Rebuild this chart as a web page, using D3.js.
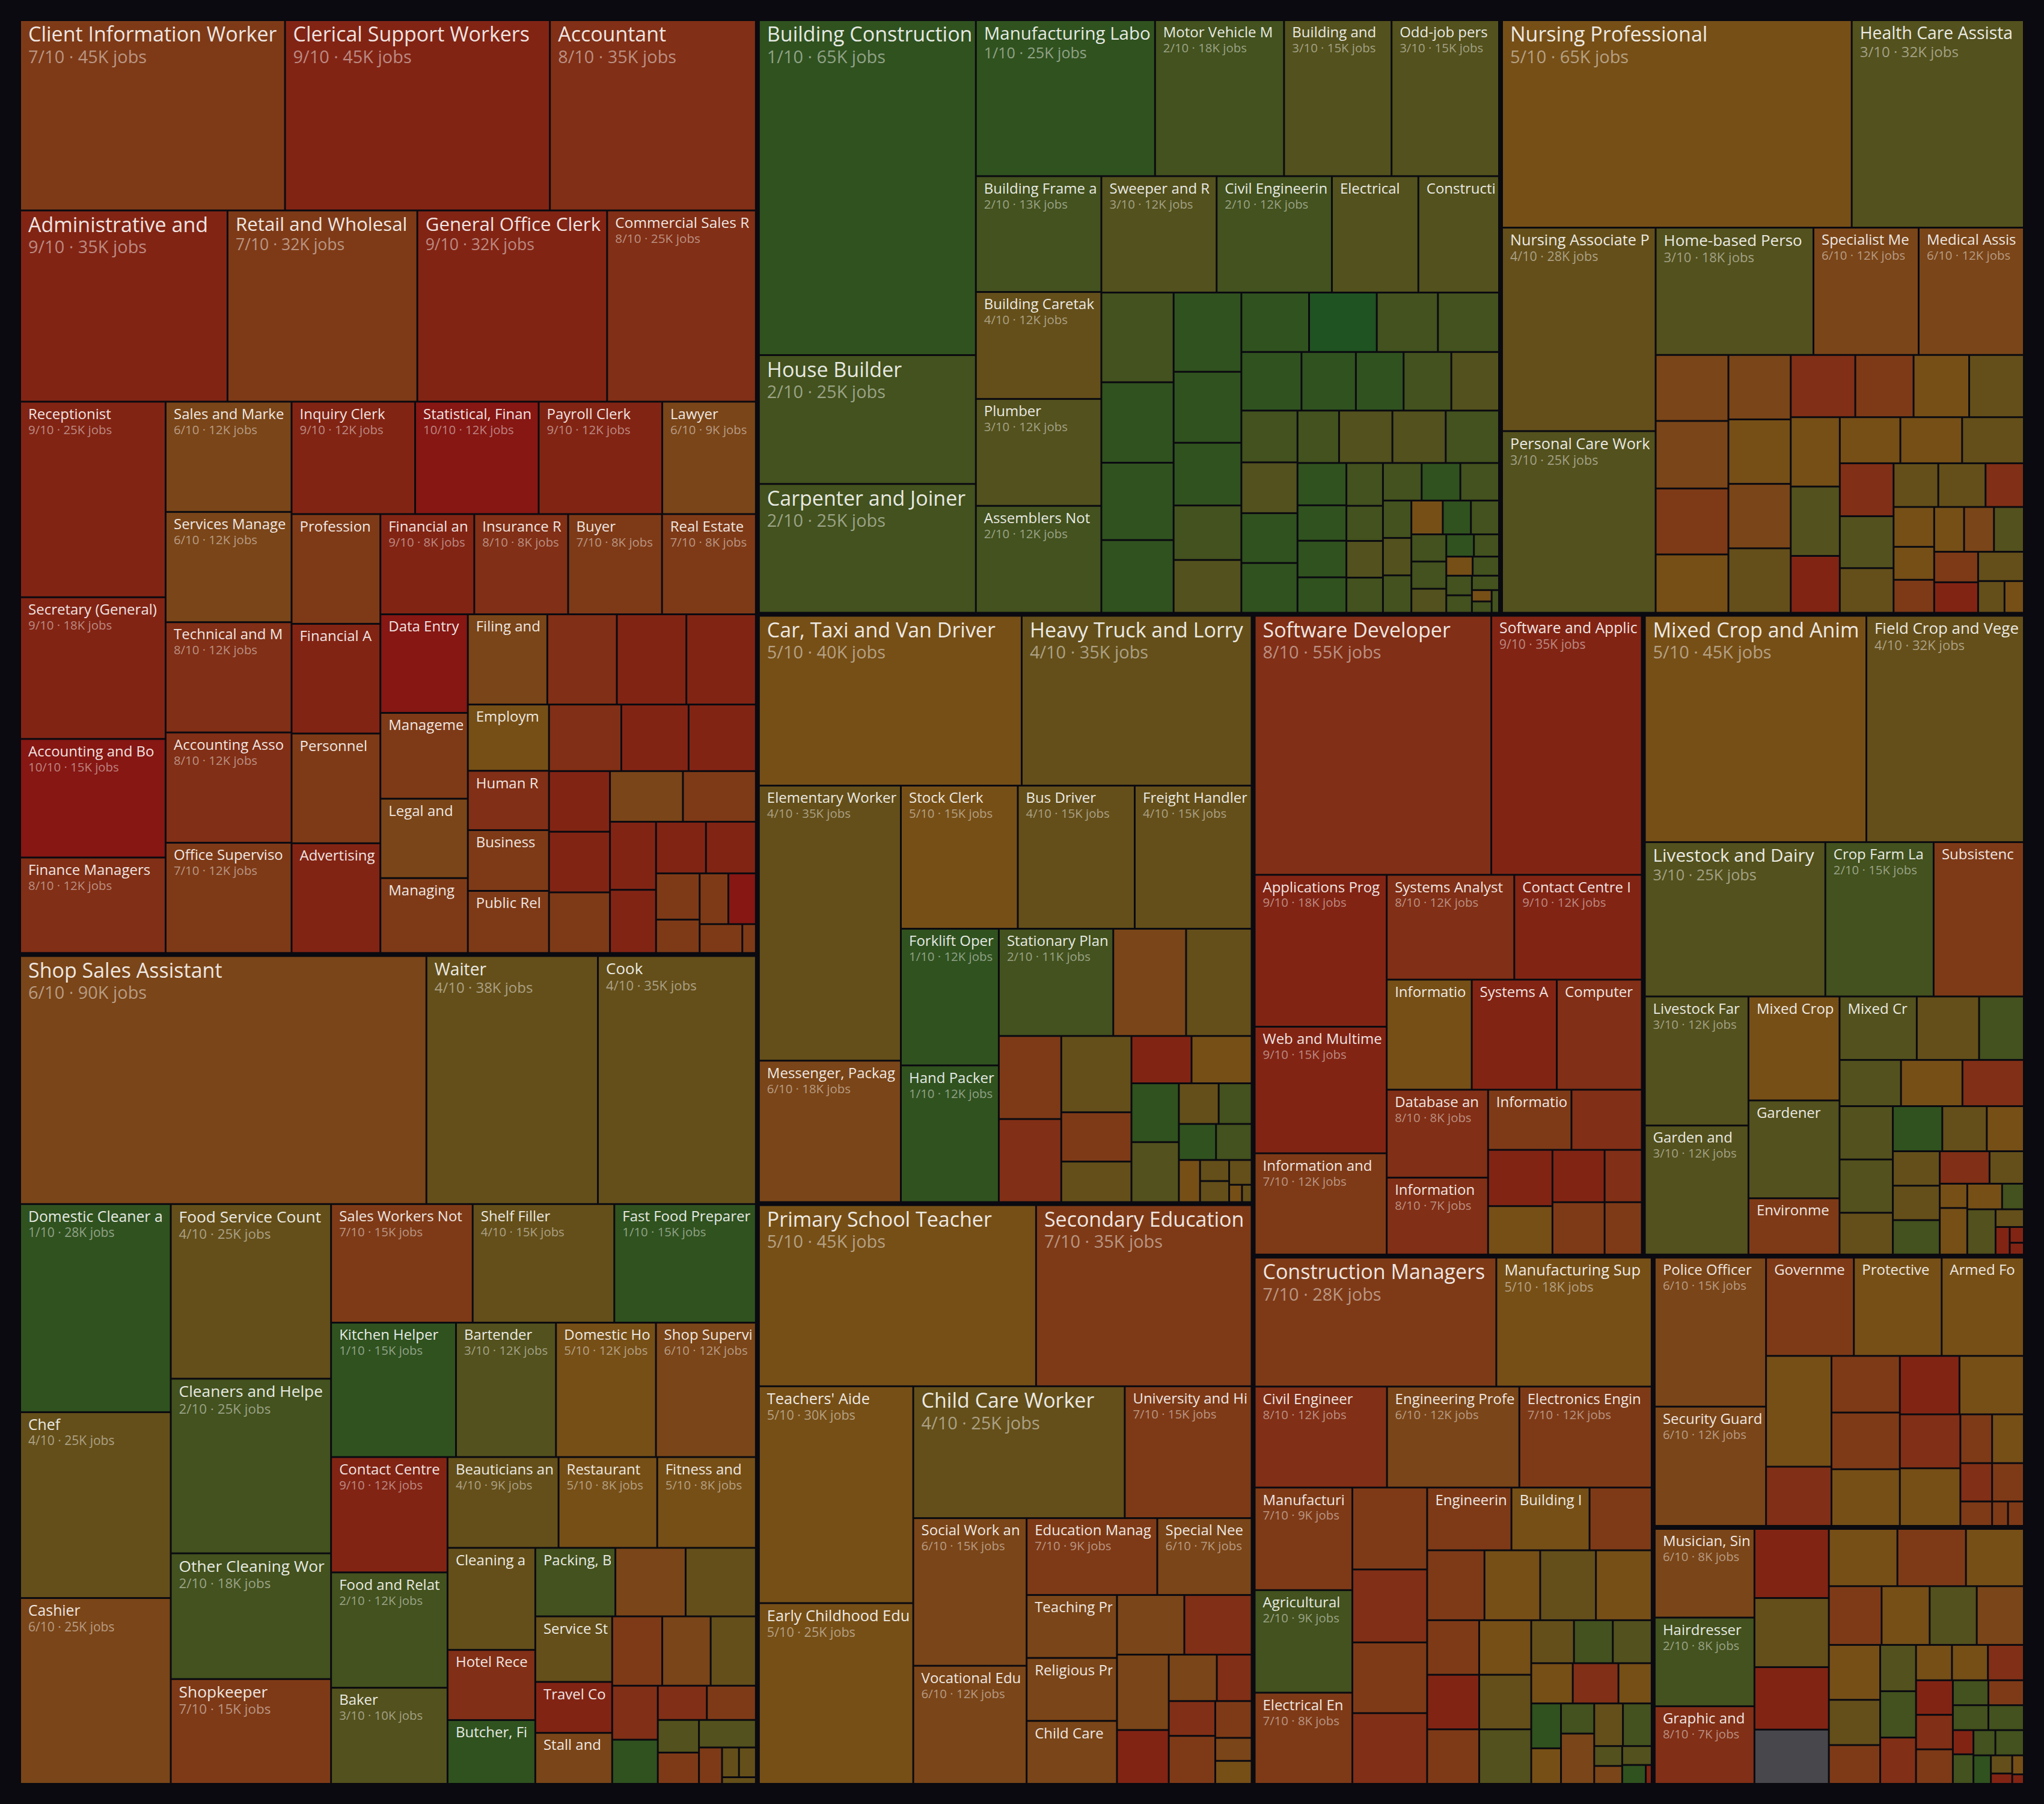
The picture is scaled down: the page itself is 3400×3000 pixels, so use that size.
<!DOCTYPE html>
<html>
<head>
<meta charset="utf-8">
<script src="https://cdn.jsdelivr.net/npm/d3@7"></script>
<style>
  html, body { margin: 0; background: #0a0a10; }
  svg { display: block; }
</style>
</head>
<body>
<div id="chart"></div>
<script>
// each row: [occupation, AI exposure score out of 10, jobs in thousands]
const office = [
  ["Client Information Workers", 7, 45], ["Clerical Support Workers Not Elsewhere Classified", 9, 45],
  ["Accountant", 8, 35], ["Administrative and Executive Secretaries", 9, 35.4],
  ["Retail and Wholesale Trade Managers", 7, 32.4], ["General Office Clerk", 9, 32.4],
  ["Commercial Sales Representative", 8, 25.4], ["Receptionist", 9, 25.4],
  ["Secretary (General)", 9, 18.4], ["Accounting and Bookkeeping Clerks", 10, 15.4],
  ["Finance Managers", 8, 12.4], ["Sales and Marketing Managers", 6, 12.4],
  ["Services Managers", 6, 12.4], ["Technical and Medical Sales Professionals", 8, 12.4],
  ["Accounting Associate Professionals", 8, 12.4], ["Office Supervisor", 7, 12.4],
  ["Inquiry Clerk", 9, 12.4], ["Statistical, Finance and Insurance Clerks", 10, 12.4],
  ["Payroll Clerk", 9, 12.4], ["Lawyer", 6, 9.4],
  ["Professional Services Managers", 7, 8.7], ["Financial Analyst", 9, 8.7],
  ["Personnel and Careers Professionals", 7, 8.7], ["Advertising and Marketing Professionals", 9, 8.7],
  ["Financial and Investment Advisers", 9, 8.4], ["Insurance Representative", 8, 8.4],
  ["Buyer", 7, 8.4], ["Real Estate Agent", 7, 8.4],
  ["Data Entry Clerk", 10, 7.7], ["Management and Organisation Analyst", 7, 6.7],
  ["Legal and Related Associate Professionals", 6, 6.2], ["Managing Director", 7, 5.85],
  ["Filing and Copying Clerk", 6, 6.4], ["Bank Teller", 8, 5.6], ["Debt Collector", 9, 5.6],
  ["Mail Clerk", 9, 5.6],
  ["Employment Agents and Contractors", 5, 4.8], ["Human Resource Manager", 8, 4.3],
  ["Business Services Agents", 7, 4.4], ["Public Relations Professional", 7, 4.5],
  ["Tax Adviser", 8, 4.3], ["Credit Analyst", 9, 4.0], ["Claims Adjuster", 9, 4.0],
  ["Transcription Typist", 9, 3.3], ["Library Clerk", 9, 3.3], ["Conference Organiser", 7, 3.3],
  ["Office Manager", 6, 3.3], ["Auditor", 7, 3.3],
  ["Bookkeeper", 9, 2.8], ["Loan Officer", 9, 2.6], ["Court Clerk", 9, 2.3],
  ["Coding Clerk", 9, 2.3], ["Valuer", 7, 1.8],
  ["Auctioneer", 7, 1.3], ["Company Secretary", 7, 1.3],
  ["Word Processor Operator", 10, 1.25], ["Trade Broker", 7, 1.1], ["Actuary", 7, 0.35]
];

const sales = [
  ["Shop Sales Assistant", 6, 90], ["Waiter", 4, 38], ["Cook", 4, 35],
  ["Domestic Cleaner and Helper", 1, 28], ["Chef", 4, 25], ["Cashier", 6, 25],
  ["Food Service Counter Attendant", 4, 25], ["Cleaners and Helpers in Offices", 2, 25],
  ["Other Cleaning Workers", 2, 18], ["Shopkeeper", 7, 15],
  ["Sales Workers Not Elsewhere Classified", 7, 15], ["Shelf Filler", 4, 15],
  ["Fast Food Preparer", 1, 15], ["Kitchen Helper", 1, 15],
  ["Bartender", 3, 12], ["Domestic Housekeeper", 5, 12], ["Shop Supervisor", 6, 12],
  ["Contact Centre Salesperson", 9, 12], ["Food and Related Products Machine Operators", 2, 12],
  ["Baker", 3, 10], ["Beauticians and Related Workers", 4, 9],
  ["Restaurant Manager", 5, 8], ["Fitness and Recreation Instructors", 5, 8],
  ["Cleaning and Housekeeping Supervisors", 4, 8], ["Hotel Receptionist", 8, 5.5],
  ["Butcher, Fishmonger and Related", 1, 5], ["Packing, Bottling and Labelling Operators", 2, 4.9],
  ["Sales Demonstrator", 6, 4.3], ["Barista", 4, 4.3],
  ["Service Station Attendant", 4, 4.5], ["Travel Consultant", 9, 3.5],
  ["Stall and Market Salesperson", 6, 3.5],
  ["Street Vendor", 7, 3.1], ["Door-to-door Salesperson", 6, 3.0], ["Dishwasher", 4, 2.8],
  ["Ticket Clerk", 8, 2.2], ["Car Washer", 1, 1.8], ["Bookmaker", 8, 1.5], ["Retail Buyer", 7, 1.5],
  ["Laundry Worker", 3, 1.2], ["Pet Groomer", 7, 1.15], ["Caterer", 3, 1.4],
  ["Sommelier", 7, 0.75], ["Ice Cream Vendor", 4, 0.45], ["Bellhop", 4, 0.45],
  ["Cloakroom Attendant", 4, 0.2]
];

const trades = [
  ["Building Construction Labourer", 1, 65], ["House Builder", 2, 25], ["Carpenter and Joiner", 2, 25],
  ["Manufacturing Labourer", 1, 25], ["Motor Vehicle Mechanic", 2, 18],
  ["Building and Related Trades Workers", 3, 15], ["Odd-job person", 3, 15],
  ["Building Frame and Related Trades Workers", 2, 13], ["Building Caretaker", 4, 12],
  ["Plumber", 3, 12], ["Assemblers Not Elsewhere Classified", 2, 12],
  ["Sweeper and Related Labourers", 3, 12], ["Civil Engineering Labourer", 2, 12],
  ["Electrical Mechanic", 3, 9], ["Construction Supervisor", 3, 8.4],
  ["Bricklayer", 2, 5.8], ["Concrete Placer", 1, 5.2], ["Roofer", 1, 5.0],
  ["Painter and Decorator", 1, 4.7], ["Welder", 1, 4.8], ["Scaffolder", 1, 4.3],
  ["Plasterer", 1, 3.8], ["Tiler", 2, 3.3], ["Glazier", 3, 3.2],
  ["Steel Fixer", 1, 3.6], ["Demolition Worker", 0, 3.6], ["Floor Layer", 2, 3.25],
  ["Insulation Worker", 2, 3.25], ["Metal Fabricator", 1, 3.15], ["Machine Fitter", 1, 2.85],
  ["Sheet Metal Worker", 1, 2.5], ["Toolmaker", 2, 2.5], ["Electrical Line Installer", 3, 2.5],
  ["Boilermaker", 2, 2.6], ["Upholsterer", 3, 2.55], ["Earthmoving Plant Operator", 1, 2.5],
  ["Crane Operator", 1, 2.5], ["Cabinetmaker", 2, 1.95], ["Locksmith", 3, 2.5],
  ["Air-conditioning Mechanic", 3, 2.5], ["Gasfitter", 2, 2.5], ["Road Worker", 1, 1.85],
  ["Paving Worker", 1, 1.55], ["Drainlayer", 1, 1.6], ["Fencer", 1, 1.55],
  ["Pipe Fitter", 2, 1.4], ["Stonemason", 2, 1.15], ["Lift Mechanic", 3, 1.2],
  ["Wood Machinist", 2, 1.15], ["Panel Beater", 2, 1.3], ["Spray Painter", 1, 1.3],
  ["Tyre Fitter", 2, 1.3], ["Blacksmith", 2, 0.95], ["Textile Machine Operator", 3, 0.95],
  ["Printing Press Operator", 2, 0.95], ["Quality Inspector", 5, 0.95], ["Signwriter", 1, 0.85],
  ["Chemical Plant Operator", 2, 0.85], ["Paper Mill Worker", 2, 0.85], ["Sawmill Worker", 2, 0.85],
  ["Boat Builder", 3, 0.75], ["Jeweller", 1, 0.55], ["Watch Repairer", 2, 0.5],
  ["Piano Tuner", 5, 0.45], ["Glass Blower", 2, 0.45], ["Potter", 2, 0.45], ["Saddler", 2, 0.4],
  ["Cooper", 2, 0.35], ["Thatcher", 5, 0.2], ["Bell Founder", 2, 0.2], ["Wheelwright", 2, 0.15]
];

const health = [
  ["Nursing Professional", 5, 65], ["Health Care Assistant", 3, 32],
  ["Nursing Associate Professional", 4, 28], ["Personal Care Worker", 3, 25],
  ["Home-based Personal Care Worker", 3, 18], ["Specialist Medical Practitioner", 6, 12],
  ["Medical Assistant", 6, 12],
  ["Physiotherapist", 6, 4.3], ["Pharmacist", 6, 4.4], ["Radiographer", 7, 4.3], ["Midwife", 5, 3.8],
  ["Dentist", 6, 3.6], ["Paramedic", 5, 3.6], ["Optometrist", 6, 3.6], ["Dental Assistant", 4, 3.6],
  ["Medical Secretary", 8, 3.6], ["Dietitian", 7, 3.25], ["Occupational Therapist", 5, 3.1],
  ["Ambulance Worker", 4, 3.05], ["Psychologist", 5, 3.05], ["Hospital Orderly", 3, 3.05],
  ["Medical Records Clerk", 9, 2.5], ["Speech Therapist", 5, 2.5], ["Podiatrist", 5, 2.55],
  ["Massage Therapist", 4, 2.55], ["Medical Laboratory Technician", 8, 2.55],
  ["Veterinary Nurse", 3, 2.5], ["Dental Hygienist", 4, 2.15], ["Optician", 4, 1.75],
  ["Sterilisation Technician", 4, 1.85], ["Health Information Manager", 8, 1.5],
  ["Chiropractor", 5, 1.45], ["Audiologist", 5, 1.2], ["Health Inspector", 7, 1.2],
  ["Osteopath", 5, 1.2], ["Veterinarian", 6, 1.2], ["Mortuary Assistant", 3, 1.2],
  ["Medical Physicist", 7, 1.2], ["Clinical Coder", 9, 1.2], ["Phlebotomist", 4, 1.2],
  ["Orthotist", 4, 0.75], ["Dental Technician", 5, 0.55]
];

const transport = [
  ["Car, Taxi and Van Driver", 5, 40], ["Heavy Truck and Lorry Driver", 4, 35],
  ["Elementary Worker", 4, 35], ["Messenger, Package Deliverer and Luggage Porter", 6, 18],
  ["Stock Clerk", 5, 15], ["Bus Driver", 4, 15], ["Freight Handler", 4, 15],
  ["Forklift Operator", 1, 12], ["Hand Packer", 1, 12], ["Stationary Plant Operator", 2, 11],
  ["Courier", 6, 7.0], ["Warehouse Worker", 4, 6.3], ["Logistics Clerk", 7, 4.65],
  ["Transport Clerk", 8, 4.65], ["Removalist", 4, 4.8], ["Shipping Agent", 7, 3.1],
  ["Train Driver", 4, 2.55], ["Freight Dispatcher", 9, 2.55], ["Postal Worker", 5, 2.55],
  ["Deckhand", 1, 2.5], ["Tram Driver", 3, 2.55], ["Ship's Officer", 4, 1.45],
  ["Aircraft Loader", 2, 1.2], ["Rail Track Worker", 1, 1.2], ["Mobile Plant Operator", 2, 1.15],
  ["Air Traffic Controller", 5, 0.8], ["Pilot", 4, 0.55], ["Ferry Master", 4, 0.55],
  ["Tow Truck Driver", 4, 0.5], ["Harbour Master", 5, 0.2], ["Lighthouse Keeper", 4, 0.15]
];

const education = [
  ["Primary School Teacher", 5, 45], ["Secondary Education Teacher", 7, 35],
  ["Teachers' Aide", 5, 30], ["Early Childhood Educator", 5, 25],
  ["Child Care Worker", 4, 25], ["University and Higher Education Teacher", 7, 15],
  ["Social Work and Counselling Professional", 6, 15], ["Vocational Education Teacher", 6, 12],
  ["Education Manager", 7, 9], ["Special Needs Teacher", 6, 6.5],
  ["Teaching Professionals Not Elsewhere Classified", 6, 5.1], ["Religious Professional", 6, 5.1],
  ["Child Care Services Manager", 6, 5.1],
  ["School Counsellor", 6, 3.6], ["Private Tutor", 8, 3.6], ["Music Teacher", 6, 3.5],
  ["Language Teacher", 9, 2.5], ["Sports Coach", 6, 2.0], ["Education Adviser", 8, 1.45],
  ["Librarian", 8, 1.45], ["Art Teacher", 7, 2.0], ["Driving Instructor", 7, 1.2],
  ["School Principal", 6, 0.75], ["Youth Worker", 5, 0.75]
];

const tech = [
  ["Software Developer", 8, 55], ["Software and Applications Developers and Analysts", 9, 35],
  ["Applications Programmer", 9, 18], ["Web and Multimedia Developer", 9, 15],
  ["Information and Communications Technology Operations Technician", 7, 12],
  ["Systems Analyst", 8, 12], ["Contact Centre Information Clerk", 9, 12],
  ["Information Technology Support Technician", 5, 8.4], ["Systems Administrator", 9, 8.4],
  ["Computer Network Professional", 8, 8.4], ["Database and Network Professional", 8, 8],
  ["Information and Communications Technology Sales Professional", 8, 7],
  ["Information Security Analyst", 7, 4.5],
  ["ICT Trainer", 8, 3.8], ["Data Analyst", 9, 3.25], ["Telecommunications Technician", 5, 2.8],
  ["Web Designer", 9, 2.45], ["ICT Project Manager", 8, 1.75], ["Network Engineer", 7, 2.45],
  ["ICT Sales Assistant", 7, 1.75]
];

const farming = [
  ["Mixed Crop and Animal Producer", 5, 45], ["Field Crop and Vegetable Grower", 4, 32],
  ["Livestock and Dairy Producer", 3, 25], ["Crop Farm Labourer", 2, 15],
  ["Subsistence Farmer", 7, 12.5], ["Livestock Farm Labourer", 3, 12],
  ["Garden and Horticultural Labourer", 3, 12], ["Mixed Crop and Livestock Farm Labourer", 5, 8.5],
  ["Gardener", 3, 8.0], ["Environmental Protection Professional", 7, 4.6],
  ["Mixed Crop Grower", 3, 4.4],
  ["Orchard Worker", 4, 3.55], ["Nursery Worker", 2, 2.55], ["Shearer", 3, 2.55],
  ["Vineyard Worker", 5, 2.55], ["Farm Manager", 8, 2.55], ["Poultry Farmer", 3, 2.55],
  ["Apiarist", 3, 2.55], ["Forestry Worker", 4, 2.0], ["Tree Feller", 1, 2.0],
  ["Greenkeeper", 4, 1.8], ["Aquaculture Worker", 5, 1.5], ["Fisher", 4, 1.45],
  ["Pig Farmer", 4, 1.45], ["Irrigation Worker", 2, 1.45], ["Agricultural Scientist", 8, 1.45],
  ["Horse Trainer", 4, 1.0], ["Florist", 5, 0.6], ["Wool Classer", 5, 1.15],
  ["Fruit Picker", 5, 0.8], ["Landscaper", 2, 0.5], ["Deer Farmer", 3, 1.15],
  ["Hunter and Trapper", 4, 0.45], ["Agronomist", 9, 0.35], ["Soil Scientist", 9, 0.2],
  ["Seed Analyst", 9, 0.15]
];

const engineering = [
  ["Construction Managers", 7, 28], ["Manufacturing Supervisor", 5, 18],
  ["Civil Engineer", 8, 12], ["Engineering Professionals Not Elsewhere Classified", 6, 12],
  ["Electronics Engineer", 7, 12], ["Manufacturing Manager", 7, 9],
  ["Agricultural and Forestry Production Managers", 2, 9], ["Electrical Engineer", 7, 8],
  ["Industrial and Production Engineer", 7, 5.5],
  ["Mechanical Engineer", 8, 4.9], ["Production Manager", 7, 4.75], ["Quantity Surveyor", 8, 4.75],
  ["Engineering Technician", 7, 4.75], ["Building Inspector", 5, 4.4], ["Architect", 7, 3.5],
  ["Surveyor", 7, 3.6], ["Draughtsperson", 5, 3.5], ["Mining Engineer", 4, 3.5],
  ["Site Manager", 5, 3.5], ["Chemical Engineer", 7, 2.55], ["Project Engineer", 9, 2.55],
  ["Materials Engineer", 7, 2.55], ["Maintenance Planner", 5, 2.55], ["Safety Officer", 4, 2.55],
  ["Fire Engineer", 3, 2.55], ["Mine Manager", 4, 1.65], ["Forestry Manager", 2, 1.5],
  ["Transport Manager", 3, 1.5], ["Plant Manager", 5, 1.5], ["Patent Examiner", 8, 1.65],
  ["Marine Engineer", 5, 1.2], ["Horticulture Manager", 1, 1.2], ["Energy Auditor", 5, 0.95],
  ["Water Engineer", 2, 0.9], ["Metallurgist", 6, 1.5], ["Landscape Architect", 4, 1.1],
  ["Geotechnical Engineer", 2, 1.1], ["Acoustic Engineer", 3, 0.5], ["Town Planner", 6, 0.45],
  ["Hydrologist", 3, 0.5], ["Aquaculture Manager", 1, 0.4], ["Cartographer", 9, 0.1]
];

const protective = [
  ["Police Officer", 6, 15], ["Security Guard", 6, 12],
  ["Government Regulatory Associate Professionals", 7, 7.8], ["Protective Services Workers", 5, 7.8],
  ["Armed Forces", 5, 7.3],
  ["Prison Officer", 5, 6.55], ["Customs Officer", 8, 3.5], ["Firefighter", 7, 3.5],
  ["Immigration Officer", 7, 3.5], ["Private Investigator", 5, 3.5], ["Border Inspector", 9, 3.15],
  ["Lifeguard", 5, 3.4], ["Fire Inspector", 8, 2.95], ["Traffic Warden", 5, 3.15],
  ["Bailiff", 7, 1.4], ["Detective", 5, 1.4], ["Intelligence Analyst", 8, 1.1],
  ["Parole Officer", 7, 0.7], ["Crime Scene Officer", 7, 1.1], ["Dog Handler", 7, 0.35],
  ["Bodyguard", 7, 0.35]
];

const creative = [
  ["Musician, Singer and Composer", 6, 8], ["Hairdresser", 2, 8], ["Graphic and Multimedia Designer", 8, 7],
  ["Photographer", 9, 4.65], ["Tattooist", 4, 4.65], ["Journalist", 9, 4.2], ["Other Artist", null, 3.65],
  ["Actor", 5, 3.55], ["Author", 7, 3.55], ["Dancer", 5, 3.0], ["Film Editor", 7, 2.8],
  ["Nail Technician", 5, 2.55], ["Barber", 3, 2.5], ["Interior Designer", 6, 2.5],
  ["Event Planner", 5, 2.55], ["Make-up Artist", 4, 2.1], ["Translator", 7, 1.8],
  ["Pet Sitter", 3, 1.5], ["Funeral Director", 2, 1.5], ["Copywriter", 8, 1.5],
  ["Fashion Designer", 5, 1.15], ["Curator", 5, 1.15], ["Editor", 8, 1.15],
  ["Illustrator", 9, 1.15], ["Proofreader", 8, 1.15], ["Art Director", 7, 1.15],
  ["Embalmer", 2, 0.8], ["Radio Presenter", 7, 0.8], ["Tour Guide", 2, 0.8], ["Chauffeur", 2, 0.8],
  ["Voice Actor", 9, 0.45], ["Clown", 2, 0.55], ["Magician", 2, 0.5], ["Busker", 2, 0.65],
  ["Astrologer", 1, 0.45], ["Conductor", 4, 0.35], ["Calligrapher", 9, 0.2], ["Puppeteer", 5, 0.2],
  ["Stenographer", 9, 0.1]
];

const groupNames = ["Business and Administration", "Sales and Hospitality", "Construction and Manufacturing",
  "Health and Care", "Transport and Logistics", "Education", "Information Technology",
  "Agriculture", "Engineering and Management", "Protective Services", "Arts and Personal Services"];
const groups = [office, sales, trades, health, transport, education, tech, farming, engineering, protective, creative];

// colour for each exposure score 0..10, green (low) to red (high)
const scoreColors = ["#1f5322", "#30521f", "#43521e", "#53511d", "#644f1a", "#764f17",
  "#7a4518", "#7e3a17", "#812f16", "#822414", "#861713"];
const noScoreColor = "#48484c";

const width = 3400, height = 3000;
const margin = { top: 35, right: 35, bottom: 35, left: 35 };

const svg = d3.select("#chart").append("svg")
  .attr("width", width)
  .attr("height", height)
  .style("background", "#0a0a10");

const root = d3.hierarchy({
    name: "jobs",
    children: groups.map((g, i) => ({
      name: groupNames[i],
      children: g.map(r => ({ name: r[0], score: r[1], jobs: r[2] }))
    }))
  })
  .sum(d => d.jobs || 0);

// plain squarify (target aspect 1) keeps the rows the way the original lays them out
d3.treemap()
  .tile(d3.treemapSquarify.ratio(1))
  .size([width - margin.left - margin.right, height - margin.top - margin.bottom])
  .paddingInner(d => d.depth === 0 ? 8 : 3)
  (root);

const leaves = root.leaves();
leaves.forEach((d, i) => d.uid = "cell" + i);

const chart = svg.append("g")
  .attr("transform", "translate(" + margin.left + "," + margin.top + ")");

const cell = chart.selectAll("g.cell")
  .data(leaves)
  .join("g")
  .attr("class", "cell")
  .attr("transform", d => "translate(" + d.x0 + "," + d.y0 + ")");

cell.append("rect")
  .attr("width", d => d.x1 - d.x0)
  .attr("height", d => d.y1 - d.y0)
  .attr("fill", d => d.data.score == null ? noScoreColor : scoreColors[d.data.score]);

// only cells big enough get a label
const labelled = cell.filter(d => (d.x1 - d.x0) >= 124 && (d.y1 - d.y0) >= 55);

labelled.append("clipPath")
  .attr("id", d => d.uid)
  .append("rect")
  .attr("width", d => d.x1 - d.x0 - 6)
  .attr("height", d => d.y1 - d.y0);

function titleSize(d) {
  return Math.max(24, Math.min(34, (d.x1 - d.x0) * 0.1));
}

// cut a label so that it ends inside its cell
function fit(text) {
  text.each(function(d) {
    const node = this;
    const room = d.x1 - d.x0 - 16;
    let s = node.textContent;
    while (s.length > 1 && node.getComputedTextLength() > room) {
      s = s.slice(0, -1);
      node.textContent = s;
    }
  });
}

const label = labelled.append("g")
  .attr("clip-path", d => "url(#" + d.uid + ")")
  .style("font-family", "'Open Sans', 'Noto Sans', sans-serif");

label.append("text")
  .attr("x", 12)
  .attr("y", d => 10 + titleSize(d) * 0.72)
  .attr("font-size", d => titleSize(d) + "px")
  .attr("fill", "rgba(255,255,255,0.9)")
  .text(d => d.data.name)
  .call(fit);

label.filter(d => (d.x1 - d.x0) >= 150 && (d.y1 - d.y0) >= 90)
  .append("text")
  .attr("x", 12)
  .attr("y", d => 10 + titleSize(d) * 1.76)
  .attr("font-size", d => titleSize(d) * 0.85 + "px")
  .attr("fill", "rgba(255,255,255,0.47)")
  .text(d => d.data.score + "/10 · " + Math.round(d.data.jobs) + "K jobs")
  .call(fit);
</script>
</body>
</html>
